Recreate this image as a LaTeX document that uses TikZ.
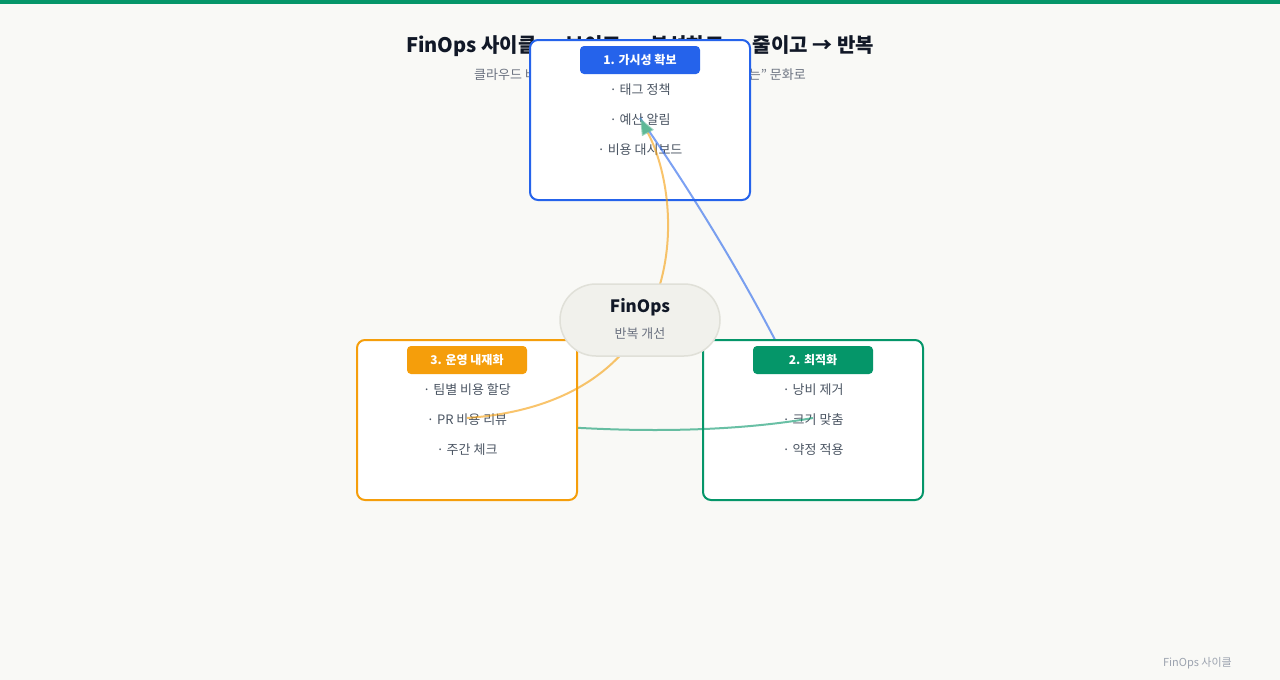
\documentclass[tikz,border=0pt]{standalone}
\usepackage{fontspec}
\setmainfont{Noto Sans CJK KR}
\usetikzlibrary{arrows.meta}
\definecolor{bgc}{HTML}{F9F9F6}
\definecolor{cblue}{HTML}{2563EB}
\definecolor{cgreen}{HTML}{059669}
\definecolor{corange}{HTML}{F59E0B}
\definecolor{itemc}{HTML}{4B5563}
\definecolor{subc}{HTML}{6B7280}
\definecolor{footc}{HTML}{9CA3AF}
\definecolor{titlec}{HTML}{111827}
\definecolor{hubfill}{HTML}{F1F1EC}
\definecolor{hubline}{HTML}{E0E0D8}
\definecolor{tipc}{HTML}{5DB896}
\tikzset{
  stagebox/.style={draw=#1, line width=2pt, fill=white, rounded corners=8pt,
    minimum width=220pt, minimum height=160pt, inner sep=0pt},
  pill/.style={fill=#1, rounded corners=4pt, minimum width=120pt, minimum height=28pt,
    inner sep=0pt, text=white, font=\fontsize{12}{14}\selectfont\bfseries},
  item/.style={text=itemc, font=\fontsize{13}{15}\selectfont, inner sep=0pt},
  flow/.style={draw=#1, draw opacity=0.6, line width=2pt},
}
\begin{document}
\begin{tikzpicture}[x=1pt,y=-1pt]
\useasboundingbox (0,0) rectangle (1280,680);
\fill[bgc] (0,0) rectangle (1280,680);
\fill[cgreen] (0,0) rectangle (1280,4);

\node[text=titlec, font=\fontsize{20}{24}\selectfont\bfseries, inner sep=0pt] (title) at (640,46) {FinOps 사이클 → 보이고 → 분석하고 → 줄이고 → 반복};
\node[text=subc, font=\fontsize{13}{15}\selectfont, inner sep=0pt] (subtitle) at (640,74.5) {클라우드 비용을 "엔지니어링 팀이 모두 직접 책임지는" 문화로};

% box 1
\node[stagebox=cblue] (b1) at (640,120) {};
\node[pill=cblue] (h1) at (640,60) {\raisebox{-1pt}{1. 가시성 확보}};
\node[item] (i11) at (640,89.5) {· 태그 정책};
\node[item] (i12) at (640,119.5) {· 예산 알림};
\node[item] (i13) at (640,149.5) {· 비용 대시보드};
\coordinate (p1) at (640,118);
\coordinate (p2) at (813,418);
\coordinate (p3) at (467,418);

% edge 1 -> 2
\draw[flow=cblue] (p1) .. controls (690,190) and (760,300) .. (p2);

% box 2
\node[stagebox=cgreen] (b2) at (813,420) {};
\node[pill=cgreen] (h2) at (813,360) {\raisebox{-1pt}{2. 최적화}};
\node[item] (i21) at (813,389.5) {· 낭비 제거};
\node[item] (i22) at (813,419.5) {· 크기 맞춤};
\node[item] (i23) at (813,449.5) {· 약정 적용};

% edge 2 -> 3
\draw[flow=cgreen] (p2) .. controls (720,434) and (600,434) .. (p3);

% box 3
\node[stagebox=corange] (b3) at (467,420) {};
\node[pill=corange] (h3) at (467,360) {\raisebox{-1pt}{3. 운영 내재화}};
\node[item] (i31) at (467,389.5) {· 팀별 비용 할당};
\node[item] (i32) at (467,419.5) {· PR 비용 리뷰};
\node[item] (i33) at (467,449.5) {· 주간 체크};

% edge 3 -> 1
\draw[flow=corange, -{Triangle[length=17pt,width=13pt,color=tipc,fill=tipc]}] (p3) .. controls (692,402) and (686,205) .. (p1);

% hub
\node[draw=hubline, line width=1.5pt, fill=hubfill, rounded corners=36pt,
  minimum width=160pt, minimum height=72pt, inner sep=0pt] (hub) at (640,320) {};
\node[text=titlec, font=\fontsize{17}{20}\selectfont\bfseries, inner sep=0pt] (hubt) at (640,307) {FinOps};
\node[text=subc, font=\fontsize{13}{15}\selectfont, inner sep=0pt] (hubs) at (640,334) {반복 개선};

\node[text=footc, font=\fontsize{11}{13}\selectfont, inner sep=0pt, anchor=east] (foot) at (1232,663) {FinOps 사이클};
\end{tikzpicture}
\end{document}
